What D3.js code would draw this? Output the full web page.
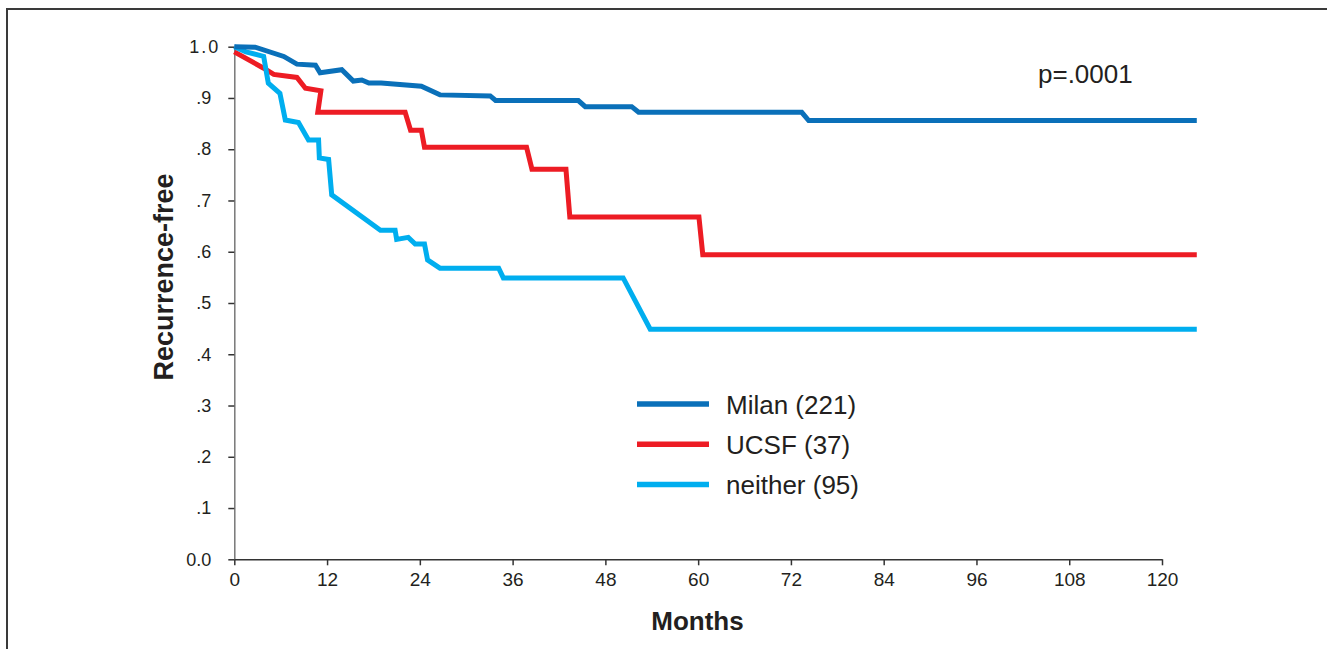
<!DOCTYPE html>
<html>
<head>
<meta charset="utf-8">
<script src="https://cdnjs.cloudflare.com/ajax/libs/d3/7.8.5/d3.min.js"></script>
<style>
    body { margin: 0; background: #fff; }
    text { font-family: "Liberation Sans", Arial, Helvetica, sans-serif; fill: #231f20; }
</style>
</head>
<body>
<div id="km_chart"></div>
<script>
var seriesNames = ["Milan (221)", "UCSF (37)", "neither (95)"];
var seriesColors = ['#0a70b9', '#ed1c24', '#00aeef'];

// [months, recurrence-free]
var milan = [[0, 1.0], [2.7, 0.999], [6.4, 0.981], [8.1, 0.966], [10.5, 0.964], [11.1, 0.949],
    [13.9, 0.955], [15.4, 0.933], [16.5, 0.935], [17.4, 0.929], [19, 0.929], [24.2, 0.923],
    [26.6, 0.906], [33.1, 0.904], [33.8, 0.895], [44.5, 0.895], [45.4, 0.883], [51.4, 0.883],
    [52.3, 0.872], [73.4, 0.872], [74.3, 0.856], [124.5, 0.856]];
var ucsf = [[0, 0.990], [3.8, 0.958], [5.1, 0.946], [8.1, 0.940], [9.2, 0.919], [11.2, 0.914],
    [10.8, 0.872], [22.1, 0.872], [22.8, 0.837], [24.2, 0.837], [24.6, 0.804], [37.8, 0.804],
    [38.5, 0.761], [42.9, 0.761], [43.4, 0.668], [60.1, 0.668], [60.6, 0.594], [124.5, 0.594]];
var neither = [[0, 1.0], [1.5, 0.99], [3.8, 0.981], [4.4, 0.929], [5.9, 0.909], [6.6, 0.857],
    [8.3, 0.852], [9.6, 0.818], [10.9, 0.818], [11.0, 0.783], [12.2, 0.780], [12.6, 0.711],
    [18.9, 0.642], [20.8, 0.642], [21.0, 0.624], [22.5, 0.628], [23.4, 0.615], [24.6, 0.615],
    [25.0, 0.584], [26.6, 0.568], [34.2, 0.568], [34.8, 0.549], [50.3, 0.549], [53.8, 0.449],
    [124.5, 0.449]];

var xTicks = [0, 12, 24, 36, 48, 60, 72, 84, 96, 108, 120];
var yTicks = [0, 0.1, 0.2, 0.3, 0.4, 0.5, 0.6, 0.7, 0.8, 0.9, 1.0];
var pValue = "p=.0001";

var width = 1327;
var height = 649;

var svg = d3.select("#km_chart")
    .append("svg")
    .attr("width", width)
    .attr("height", height);

// outer frame, runs off the right and bottom edge
svg.append("path")
    .attr("d", "M7,700 V9 H1400")
    .style("fill", "none")
    .style("stroke", "#3a3a3a")
    .style("stroke-width", 2);

var x = d3.scaleLinear().domain([0, 120]).range([234.3, 1162]);
var y = d3.scaleLinear().domain([0, 1]).range([559.3, 46.7]);

var xAxis = d3.axisBottom(x)
    .tickValues(xTicks)
    .tickSize(6)
    .tickPadding(7)
    .tickSizeOuter(0);

var yAxis = d3.axisLeft(y)
    .tickValues(yTicks)
    .tickSize(6)
    .tickPadding(17)
    .tickSizeOuter(0)
    .tickFormat(function (d) {
        if (d === 0) return "0.0";
        if (d === 1) return "1.0";
        return d3.format(".1f")(d).replace(/^0/, "");
    });

var gy = svg.append("g")
    .attr("transform", "translate(234.3,0)")
    .call(yAxis);
gy.select(".domain").style("stroke", "#777").style("stroke-width", 1.5);
gy.selectAll(".tick line").style("stroke", "#333").style("stroke-width", 1.5);
gy.selectAll(".tick text")
    .style("font-size", "18px")
    .style("font-family", null)
    .attr("fill", null);
gy.selectAll(".tick text")
    .filter(function (d) { return d === 1; })
    .attr("dx", 9)
    .style("letter-spacing", "2px");

var gx = svg.append("g")
    .attr("transform", "translate(0,559.3)")
    .call(xAxis);
gx.select(".domain").style("stroke", "#333").style("stroke-width", 1.5);
gx.selectAll(".tick line").style("stroke", "#333").style("stroke-width", 1.5);
gx.selectAll(".tick text")
    .style("font-size", "19px")
    .style("font-family", null)
    .attr("fill", null);

svg.append("text")
    .attr("transform", "translate(173,277) rotate(-90)")
    .attr("text-anchor", "middle")
    .style("font-size", "27px")
    .style("font-weight", "bold")
    .text("Recurrence-free");

svg.append("text")
    .attr("x", 697.5)
    .attr("y", 630)
    .attr("text-anchor", "middle")
    .style("font-size", "26px")
    .style("font-weight", "bold")
    .text("Months");

svg.append("text")
    .attr("x", 1038)
    .attr("y", 83)
    .style("font-size", "26px")
    .text(pValue);

var line = d3.line()
    .x(function (d) { return x(d[0]); })
    .y(function (d) { return y(d[1]); });

var curves = [
    { data: ucsf, color: seriesColors[1] },
    { data: neither, color: seriesColors[2] },
    { data: milan, color: seriesColors[0] }
];

svg.selectAll("path.curve")
    .data(curves)
    .enter()
    .append("path")
    .attr("class", "curve")
    .attr("d", function (d) { return line(d.data); })
    .style("fill", "none")
    .style("stroke", function (d) { return d.color; })
    .style("stroke-width", 5)
    .style("stroke-linejoin", "miter");

var legend = svg.selectAll("g.legend")
    .data(seriesNames)
    .enter()
    .append("g")
    .attr("class", "legend")
    .attr("transform", function (d, i) { return "translate(637," + (404 + i * 40.3) + ")"; });

legend.append("line")
    .attr("x1", 0)
    .attr("x2", 72)
    .style("stroke", function (d, i) { return seriesColors[i]; })
    .style("stroke-width", 5.5);

legend.append("text")
    .attr("x", 89)
    .attr("y", 9.5)
    .style("font-size", "26px")
    .text(function (d) { return d; });
</script>
</body>
</html>
